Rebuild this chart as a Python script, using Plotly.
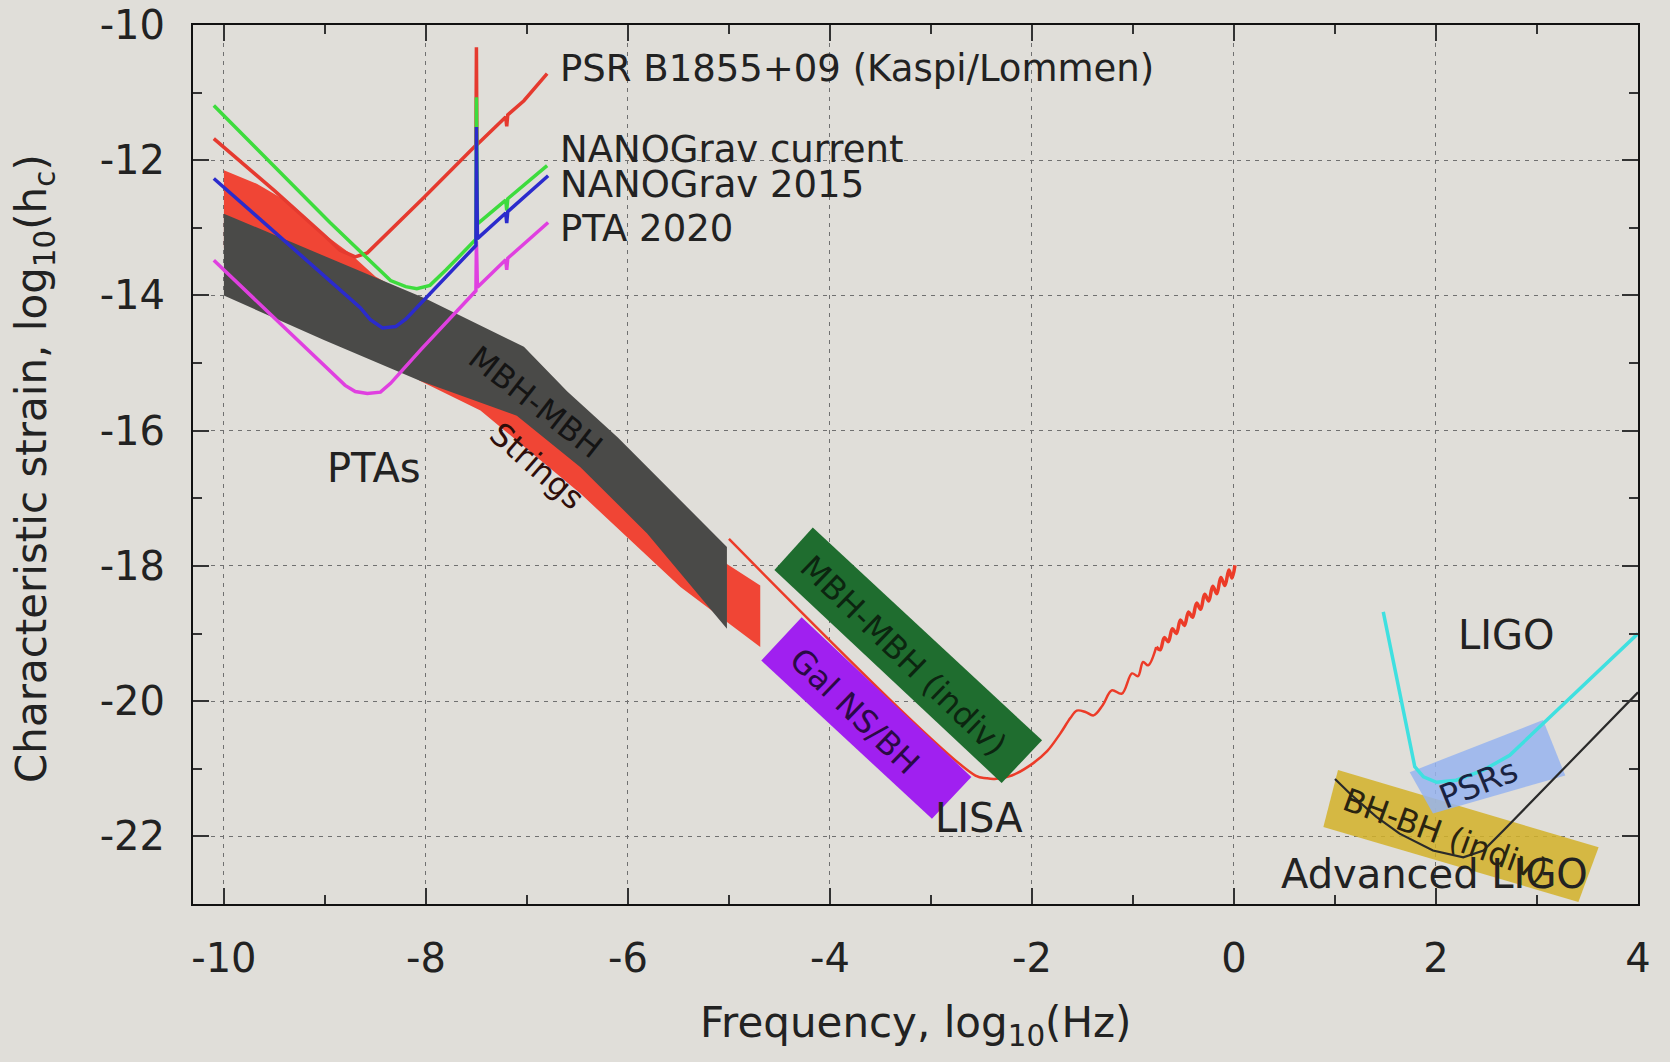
import plotly.graph_objects as go

# ---------------- axes ----------------
x_ticks = [-10, -8, -6, -4, -2, 0, 2, 4]
x_tick_text = ["-10", "-8", "-6", "-4", "-2", "0", "2", "4"]
y_ticks = [-22, -20, -18, -16, -14, -12, -10]
y_tick_text = ["-22", "-20", "-18", "-16", "-14", "-12", "-10"]

# ---------------- PTA sensitivity curves (log10 f, log10 h_c) ----------------
psr_x = [-10.10, -9.50, -9.00, -8.85, -8.70, -8.58, -8.02, -7.505, -7.500, -7.495, -7.21, -7.20, -7.19, -7.03, -6.80]
psr_y = [-11.68, -12.45, -13.12, -13.33, -13.43, -13.37, -12.55, -11.78, -10.33, -11.77, -11.36, -11.50, -11.33, -11.12, -10.72]

nano_cur_x = [-10.10, -8.95, -8.35, -8.20, -8.09, -7.96, -7.80, -7.59, -7.505, -7.500, -7.490, -7.21, -7.20, -7.19, -6.80]
nano_cur_y = [-11.19, -12.92, -13.78, -13.87, -13.90, -13.85, -13.62, -13.29, -13.17, -11.07, -12.94, -12.59, -12.74, -12.57, -12.08]

nano15_x = [-10.10, -8.65, -8.55, -8.43, -8.30, -8.20, -7.505, -7.500, -7.490, -7.21, -7.20, -7.19, -6.79]
nano15_y = [-12.27, -14.18, -14.36, -14.48, -14.46, -14.35, -13.26, -11.51, -13.16, -12.78, -12.93, -12.76, -12.23]

pta20_x = [-10.10, -8.80, -8.70, -8.58, -8.45, -8.35, -8.05, -7.505, -7.500, -7.490, -7.21, -7.20, -7.19, -6.79]
pta20_y = [-13.48, -15.33, -15.42, -15.45, -15.43, -15.30, -14.80, -13.93, -13.20, -13.88, -13.47, -13.62, -13.45, -12.92]

# ---------------- source regions (polygons) ----------------
strings_x = [-10.00, -9.67, -9.34, -9.01, -8.75, -8.50, -7.00, -5.02, -4.69, -4.69, -5.48, -6.47, -7.46, -8.06, -10.00]
strings_y = [-12.15, -12.35, -12.64, -13.09, -13.38, -13.72, -15.00, -17.97, -18.29, -19.20, -18.31, -16.93, -15.70, -15.26, -13.30]

mbh_x = [-10.00, -8.00, -7.03, -6.60, -6.10, -5.02, -5.02, -5.81, -6.47, -7.10, -8.06, -9.01, -10.00]
mbh_y = [-12.79, -14.05, -14.76, -15.42, -16.10, -17.72, -18.93, -17.52, -16.54, -15.78, -15.26, -14.66, -14.00]

mbh_indiv_x = [-4.17, -1.90, -2.30, -4.55]
mbh_indiv_y = [-17.43, -20.58, -21.21, -18.06]

gal_x = [-4.28, -2.60, -2.99, -4.68]
gal_y = [-18.76, -21.12, -21.74, -19.40]

bhbh_x = [1.03, 3.61, 3.41, 0.885]
bhbh_y = [-21.02, -22.16, -22.97, -21.86]

psrs_x = [1.74, 3.06, 3.28, 1.97]
psrs_y = [-21.05, -20.28, -21.10, -21.66]

# ---------------- LISA (smooth part, then the densely oscillating tail) ----------------
lisa_x = [-5.00, -2.56, -2.45, -2.37, -2.20, -1.99, -1.85, -1.72, -1.62, -1.556, -1.47, -1.39, -1.30,
          -1.21, -1.11, -1.01, -0.95, -0.90, -0.85, -0.77]
lisa_y = [-17.60, -21.10, -21.14, -21.15, -21.10, -20.92, -20.74, -20.48, -20.25, -20.14, -20.16, -20.21, -20.06,
          -19.84, -19.89, -19.59, -19.63, -19.42, -19.47, -19.20]

lisa_tail_x = [-0.77, -0.73, -0.69, -0.65, -0.61, -0.57, -0.53, -0.49, -0.45, -0.41, -0.37, -0.33, -0.29,
               -0.25, -0.21, -0.17, -0.13, -0.09, -0.05, -0.02, 0.01]
lisa_tail_y = [-19.20, -19.24, -19.06, -19.12, -18.93, -19.00, -18.80, -18.88, -18.68, -18.76, -18.55, -18.64,
               -18.42, -18.52, -18.30, -18.41, -18.17, -18.29, -18.06, -18.18, -17.99]

# ---------------- ground-based detectors ----------------
ligo_x = [1.478, 1.79, 1.876, 2.006, 2.20, 2.47, 2.73, 3.06, 4.00]
ligo_y = [-18.68, -20.97, -21.12, -21.20, -21.17, -21.02, -20.80, -20.33, -19.00]

aligo_x = [1.00, 1.15, 1.41, 1.64, 1.97, 2.27, 2.47, 2.67, 4.00]
aligo_y = [-21.15, -21.37, -21.71, -21.96, -22.21, -22.31, -22.21, -21.91, -19.87]

FONT = "DejaVu Sans"
BG = "#e0ded9"

fig = go.Figure()


def region(xs, ys, color):
    fig.add_trace(go.Scatter(x=xs, y=ys, mode="lines", fill="toself", fillcolor=color,
                             line=dict(width=0, color=color), hoverinfo="skip", showlegend=False))


def curve(xs, ys, color, width=3.5, shape="linear"):
    fig.add_trace(go.Scatter(x=xs, y=ys, mode="lines", line=dict(color=color, width=width, shape=shape),
                             hoverinfo="skip", showlegend=False))


# bands behind the sensitivity curves
region(strings_x, strings_y, "#f04535")
region(mbh_x, mbh_y, "#4a4a48")

curve(psr_x, psr_y, "#e53a2f")
curve(nano_cur_x, nano_cur_y, "#3ddc3d")
curve(pta20_x, pta20_y, "#e040e0")
curve(nano15_x, nano15_y, "#2b2bcc")

curve(lisa_x, lisa_y, "#ec3b28", 2.5, "spline")
curve(lisa_tail_x, lisa_tail_y, "#ec3b28", 3.5, "spline")
region(mbh_indiv_x, mbh_indiv_y, "#1f6d2f")
region(gal_x, gal_y, "#a020f0")

region(bhbh_x, bhbh_y, "rgba(210,178,40,0.85)")
region(psrs_x, psrs_y, "rgba(150,180,238,0.85)")
curve(ligo_x, ligo_y, "#3fe0e0", 3.5)
curve(aligo_x, aligo_y, "#2a2a2a", 2.2)

labels = [
    # text, x, y, size, angle, color, xanchor
    ("PSR B1855+09 (Kaspi/Lommen)", -6.69, -10.65, 37, 0, "#222222", "left"),
    ("NANOGrav current", -6.69, -11.84, 37, 0, "#222222", "left"),
    ("NANOGrav 2015", -6.69, -12.36, 37, 0, "#222222", "left"),
    ("PTA 2020", -6.69, -13.01, 37, 0, "#222222", "left"),
    ("PTAs", -8.51, -16.55, 40, 0, "#222222", "center"),
    ("LISA", -2.52, -21.73, 40, 0, "#222222", "center"),
    ("LIGO", 2.70, -19.02, 40, 0, "#222222", "center"),
    ("Advanced LIGO", 1.99, -22.56, 40, 0, "#222222", "center"),
    ("MBH-MBH", -6.92, -15.58, 32, 38, "#141414", "center"),
    ("Strings", -6.90, -16.52, 32, 41, "#2e0e0a", "center"),
    ("MBH-MBH (indiv)", -3.27, -19.33, 32, 44, "#0c2510", "center"),
    ("Gal NS/BH", -3.76, -20.15, 32, 44, "#2a0a44", "center"),
    ("PSRs", 2.42, -21.22, 33, -22, "#1a2240", "center"),
    ("BH-BH (indiv)", 2.09, -21.98, 32, 20, "#2a2410", "center"),
]
for text, x, y, size, ang, col, xa in labels:
    fig.add_annotation(x=x, y=y, xref="x", yref="y", text=text, showarrow=False,
                       textangle=ang, xanchor=xa, yanchor="middle",
                       font=dict(family=FONT, size=size, color=col))

# axis titles
fig.add_annotation(x=0.5, y=-0.1377, xref="paper", yref="paper", showarrow=False,
                   text="Frequency, log<sub>10</sub>(Hz)", xanchor="center", yanchor="middle",
                   font=dict(family=FONT, size=42, color="#222222"))
fig.add_annotation(x=-0.1093, y=0.4949, xref="paper", yref="paper", showarrow=False,
                   text="Characteristic strain, log<sub>10</sub>(h<sub>c</sub>)", textangle=-90,
                   xanchor="center", yanchor="middle",
                   font=dict(family=FONT, size=42, color="#222222"))

axis_common = dict(
    showline=True, linecolor="#111111", linewidth=2, mirror="ticks",
    ticks="inside", ticklen=16, tickwidth=1.5, tickcolor="#333333",
    showgrid=True, gridcolor="#707070", gridwidth=1, griddash="4px,5px",
    zeroline=False, tickfont=dict(family=FONT, size=40, color="#222222"),
    minor=dict(ticks="inside", ticklen=9, tickwidth=1.5, tickcolor="#333333", dtick=1, showgrid=False),
)

fig.update_layout(
    width=1670, height=1062,
    margin=dict(l=193, r=32, t=25, b=158),
    paper_bgcolor=BG, plot_bgcolor=BG,
    showlegend=False,
    xaxis=dict(range=[-10.306, 4], tickmode="array", tickvals=x_ticks, ticktext=x_tick_text,
               ticklabelstandoff=18, automargin=False, **axis_common),
    yaxis=dict(range=[-23, -10], tickmode="array", tickvals=y_ticks, ticktext=y_tick_text,
               ticklabelstandoff=18, automargin=False, **axis_common),
)

fig.write_html("out.html")
